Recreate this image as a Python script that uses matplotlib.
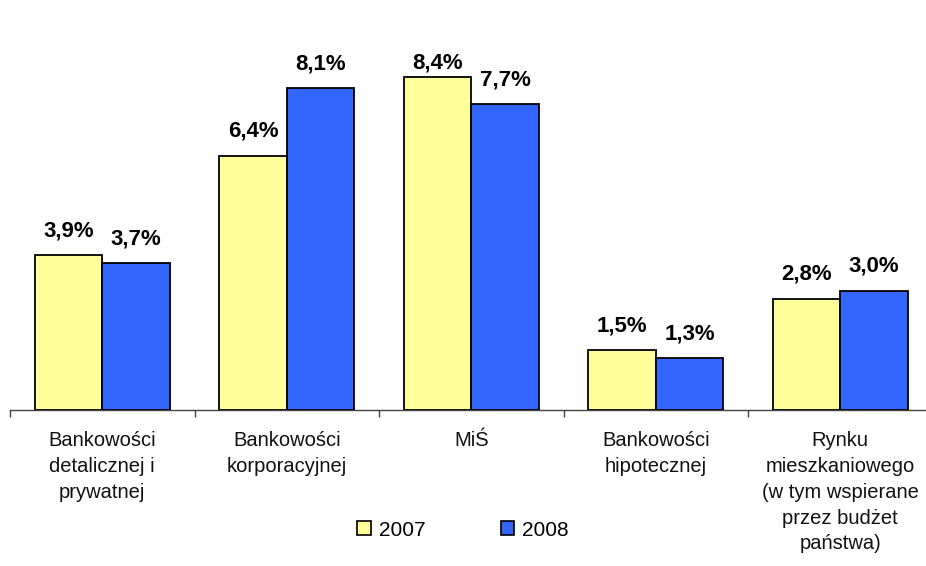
import matplotlib
matplotlib.use("Agg")
import matplotlib.pyplot as plt
from matplotlib.patches import Patch
import numpy as np

plt.rcParams['font.family'] = ['Liberation Sans', 'DejaVu Sans']

categories = ["Bankowości\ndetalicznej i\nprywatnej",
              "Bankowości\nkorporacyjnej",
              "MiŚ",
              "Bankowości\nhipotecznej",
              "Rynku\nmieszkaniowego\n(w tym wspierane\nprzez budżet\npaństwa)"]
series_names = ["2007", "2008"]
values_2007 = [3.9, 6.4, 8.4, 1.5, 2.8]
values_2008 = [3.7, 8.1, 7.7, 1.3, 3.0]
labels_2007 = ["3,9%", "6,4%", "8,4%", "1,5%", "2,8%"]
labels_2008 = ["3,7%", "8,1%", "7,7%", "1,3%", "3,0%"]

W, H = 926, 566
fig = plt.figure(figsize=(W / 100, H / 100), dpi=100)
cat_w = 184.5
ax_left, ax_bottom, ax_top = 10, 410, 13
ax = fig.add_axes([ax_left / W, (H - ax_bottom) / H, 5 * cat_w / W, (ax_bottom - ax_top) / H])
ax.set_xlim(0, 5)
ax.set_ylim(0, 10)
px_per_unit = (ax_bottom - ax_top) / 10.0

colors = ["#FFFF99", "#3366FF"]
bw = 0.366
x = np.arange(len(categories)) + 0.5
label_gap = 19 / px_per_unit          # gap between bar top and label baseline
label_cap = (ax_bottom - 69) / px_per_unit  # labels kept inside plot area
for vals, labs, off, col in [(values_2007, labels_2007, -bw / 2, colors[0]),
                             (values_2008, labels_2008, bw / 2, colors[1])]:
    ax.bar(x + off, vals, width=bw, color=col, edgecolor="black", linewidth=1.3, zorder=3)
    for xi, v, lab in zip(x + off, vals, labs):
        ax.text(xi, min(v + label_gap, label_cap), lab,
                ha="center", va="baseline", fontsize=16, fontweight="bold")

for s in ["top", "right", "left"]:
    ax.spines[s].set_visible(False)
ax.spines["bottom"].set_color("#444444")
ax.spines["bottom"].set_linewidth(1.0)
ax.set_yticks([])
ax.set_xticks(np.arange(0, 6))
ax.set_xticklabels([])
ax.tick_params(axis="x", length=5, width=1.0, color="#444444", direction="out")

for xi, cat in zip(x, categories):
    ax.text(xi, -0.54, cat, ha="center", va="top", fontsize=14.5,
            linespacing=1.45, color="#111111")

handles = [Patch(facecolor=colors[0], edgecolor="black", linewidth=1.2, label=series_names[0]),
           Patch(facecolor=colors[1], edgecolor="black", linewidth=1.2, label=series_names[1])]
fig.legend(handles=handles, loc="center", bbox_to_anchor=(463 / W, (H - 530) / H),
           ncol=2, frameon=False, fontsize=15, handlelength=0.65, handleheight=0.65,
           handletextpad=0.4, columnspacing=3.6, borderpad=0)

fig.savefig("out.png", dpi=100)
